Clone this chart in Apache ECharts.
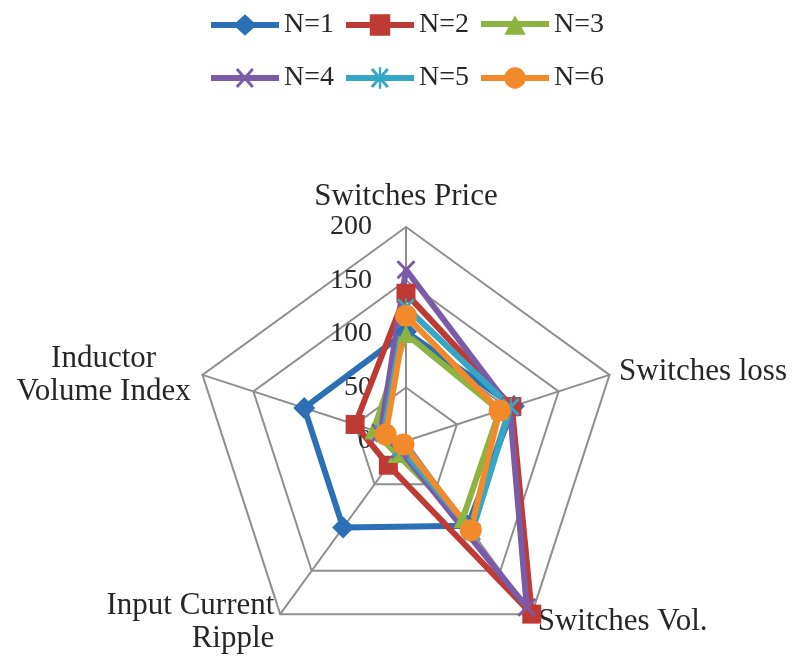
<!DOCTYPE html>
<html>
<head>
<meta charset="utf-8">
<script src="https://cdn.jsdelivr.net/npm/echarts@6/dist/echarts.min.js"></script>
<style>
  html, body { margin: 0; padding: 0; background: #ffffff; }
  #chart { width: 792px; height: 656px; }
</style>
</head>
<body>
<div id="chart"></div>
<script>
// Indicators in drawing order (ECharts lays radar axes out counter-clockwise from the top)
const axisNames = ['Switches Price', 'Inductor\nVolume Index', 'Input Current\nRipple', 'Switches Vol.', 'Switches loss'];
const axisMax = 200;

const seriesNames = ['N=1', 'N=2', 'N=3', 'N=4', 'N=5', 'N=6'];
// Values per series, same order as axisNames
const valuesN1 = [102, 100, 100, 98, 106];
const valuesN2 = [138, 50, 28, 200, 104];
const valuesN3 = [100, 32, 15, 90, 92];
const valuesN4 = [160, 25, 10, 192, 102];
const valuesN5 = [125, 22, 8, 105, 103];
const valuesN6 = [117, 20, 4, 103, 92];
const seriesValues = [valuesN1, valuesN2, valuesN3, valuesN4, valuesN5, valuesN6];

const colors = ['#2C6FB4', '#BE3B35', '#8DB440', '#7B5AA6', '#34A7C6', '#F08A2B'];

// Marker shapes
const xPath = 'path://M2.1,-0.1L20.1,17.9L17.9,20.1L-0.1,2.1ZM17.9,-0.1L20.1,2.1L2.1,20.1L-0.1,17.9Z';
const starPath = 'path://M2.1,-0.1L20.1,17.9L17.9,20.1L-0.1,2.1ZM17.9,-0.1L20.1,2.1L2.1,20.1L-0.1,17.9ZM9,0L11,0L11,20L9,20Z';
const symbols = ['diamond', 'rect', 'triangle', xPath, starPath, 'circle'];
const symbolSizes = [22, 19, 18, 19, 18, 22];

// Legend icons: a line with the series marker in the middle (70 x 22 box)
const lineBar = 'M0,8L70,8L70,14L0,14Z';
const legendIcons = [
  'path://' + lineBar + 'M35,0L47,11L35,22L23,11Z',
  'path://' + lineBar + 'M24.5,0L45.5,0L45.5,22L24.5,22Z',
  'path://' + lineBar + 'M35,2L46,22L24,22Z',
  'path://' + lineBar + 'M27.7,0.6L44.1,19.3L41.9,21.4L25.5,2.7ZM25.5,19.3L41.9,0.6L44.1,2.7L27.7,21.4Z',
  'path://' + lineBar + 'M27.7,0.6L44.1,19.3L41.9,21.4L25.5,2.7ZM25.5,19.3L41.9,0.6L44.1,2.7L27.7,21.4ZM33.8,0L36.2,0L36.2,22L33.8,22Z',
  'path://' + lineBar + 'M24,11A11,11 0 1,1 46,11A11,11 0 1,1 24,11Z'
];

const serif = "'Liberation Serif', 'DejaVu Serif', serif";
const textColor = '#262626';
const gridColor = '#8f8f8f';

// Per-axis name placement
const nameGaps = [27, 104, 10, 10, 10];
const nameStyles = [
  { align: 'center', verticalAlign: 'middle' },
  { align: 'center', verticalAlign: 'top' },
  {},
  {},
  {}
];

const indicator = axisNames.map(function (name, i) {
  const ind = { name: name, max: axisMax, min: 0, nameGap: nameGaps[i], nameTextStyle: nameStyles[i] };
  if (i === 0) {
    ind.axisLabel = { show: true };
  }
  return ind;
});

const series = seriesNames.map(function (name, i) {
  return {
    type: 'radar',
    name: name,
    symbol: symbols[i],
    symbolSize: symbolSizes[i],
    lineStyle: { color: colors[i], width: 6 },
    itemStyle: { color: colors[i] },
    emphasis: { disabled: true },
    data: [{ name: name, value: seriesValues[i] }]
  };
});

function legendRow(names, offset, top) {
  return {
    top: top,
    left: 206,
    itemWidth: 68,
    itemHeight: 22,
    itemGap: 12,
    selectedMode: false,
    textStyle: { fontFamily: serif, fontSize: 28, color: textColor },
    data: names.map(function (n, k) {
      return { name: n, icon: legendIcons[offset + k], itemStyle: { color: colors[offset + k] } };
    })
  };
}

const chart = echarts.init(document.getElementById('chart'), null, { renderer: 'canvas' });
chart.setOption({
  animation: false,
  color: colors,
  legend: [
    legendRow(seriesNames.slice(0, 3), 0, 6),
    legendRow(seriesNames.slice(3, 6), 3, 59)
  ],
  radar: {
    center: [406, 441],
    radius: 214,
    startAngle: 90,
    shape: 'polygon',
    splitNumber: 4,
    indicator: indicator,
    nameGap: 10,
    axisName: { color: textColor, fontFamily: serif, fontSize: 31, lineHeight: 33 },
    axisLine: { lineStyle: { color: gridColor, width: 2 } },
    splitLine: { lineStyle: { color: gridColor, width: 2 } },
    splitArea: { show: false },
    axisTick: { show: false },
    axisLabel: { show: false, fontFamily: serif, fontSize: 28, color: textColor, margin: 34 }
  },
  series: series
});
</script>
</body>
</html>
